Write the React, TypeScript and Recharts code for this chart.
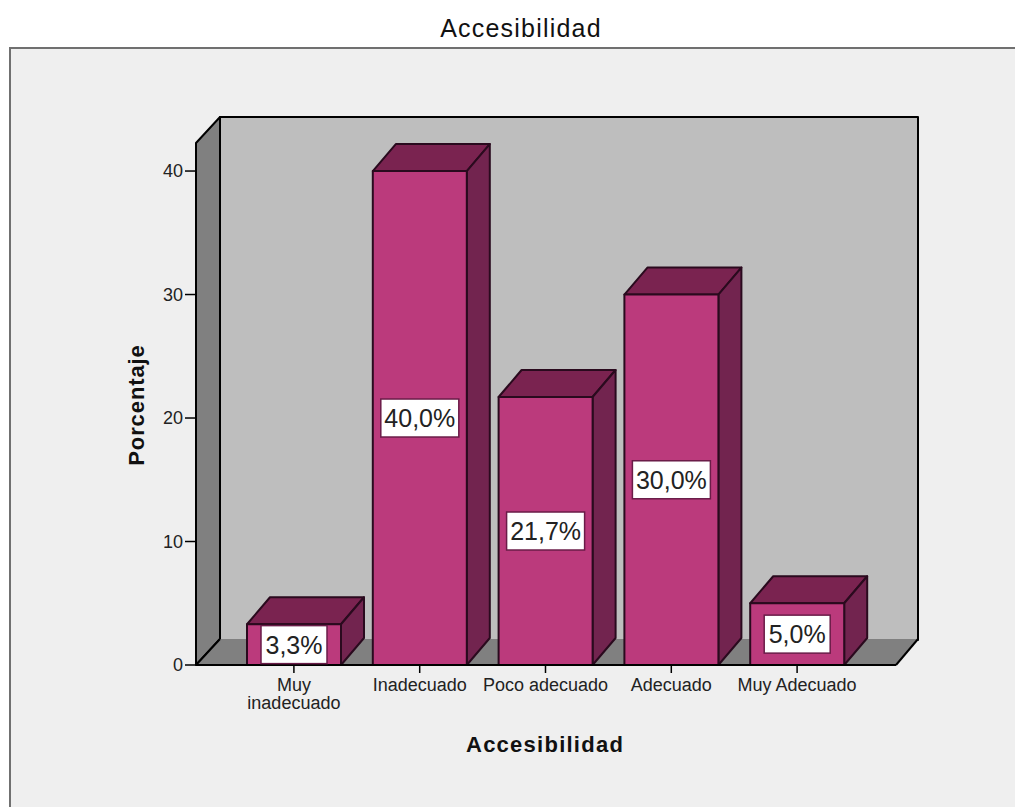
import React from "react";
import { BarChart, Bar, XAxis, YAxis, LabelList, Customized } from "recharts";

const categories = ["Muy inadecuado", "Inadecuado", "Poco adecuado", "Adecuado", "Muy Adecuado"];
const percentages = [3.3, 40.0, 21.7, 30.0, 5.0];
const yTicks = [0, 10, 20, 30, 40];

const rows = categories.map((name, i) => ({ name, value: percentages[i] }));

const W = 1015;
const H = 807;
const LEFT = 196;
const RIGHT = 896;
const TOP = 143;
const BASE = 665;
const DX = 24;
const DY = -26;
const BAR_DX = 23;
const BAR_DY = -27;
const FONT = "'Liberation Sans', Arial, sans-serif";

const pts = (list: number[][]) => list.map((p) => p.join(",")).join(" ");

// Back wall, side wall and floor of the 3D plot box.
function PlotBox() {
  return (
    <g stroke="#000" strokeWidth={2} strokeLinejoin="round">
      <polygon fill="#bebebe" points={pts([[LEFT + DX, TOP + DY], [RIGHT + DX - 2, TOP + DY], [RIGHT + DX - 2, BASE + DY + 1], [LEFT + DX, BASE + DY + 1]])} />
      <polygon fill="#808080" points={pts([[LEFT, TOP], [LEFT + DX, TOP + DY], [LEFT + DX, BASE + DY], [LEFT, BASE]])} />
      <polygon fill="#808080" stroke="none" points={pts([[LEFT, BASE], [LEFT + DX, BASE + DY], [RIGHT + DX - 2, BASE + DY], [RIGHT, BASE]])} />
      <line x1={RIGHT + DX - 2} y1={BASE + DY} x2={RIGHT} y2={BASE} />
      <line x1={LEFT + DX} y1={BASE + DY} x2={LEFT} y2={BASE} />
    </g>
  );
}

// Extruded bar: front face, top face and right side face.
function Bar3D(props: any) {
  const { x, y, width, height } = props;
  const r = x + width;
  const b = y + height;
  return (
    <g stroke="#2a0a1e" strokeWidth={2} strokeLinejoin="round">
      <polygon fill="#7a2350" points={pts([[x, y], [x + BAR_DX, y + BAR_DY], [r + BAR_DX, y + BAR_DY], [r, y]])} />
      <polygon fill="#72244f" points={pts([[r, y], [r + BAR_DX, y + BAR_DY], [r + BAR_DX, b + BAR_DY], [r, b]])} />
      <rect x={x} y={y} width={width} height={height} fill="#bb3a7c" />
    </g>
  );
}

// White value box centred on the front face of a bar.
function ValueBox(props: any) {
  const { x, y, width, height, value } = props;
  const text = `${Number(value).toFixed(1).replace(".", ",")}%`;
  const w = text.length > 4 ? 78 : 66;
  const h = 38;
  const cx = x + width / 2;
  const cy = Math.min(y + height / 2, BASE - h / 2 - 1);
  return (
    <g>
      <rect x={cx - w / 2} y={cy - h / 2} width={w} height={h} fill="#fff" stroke="#6a1c48" strokeWidth={1.5} />
      <text x={cx} y={cy + 9} textAnchor="middle" fontFamily={FONT} fontSize={25} fill="#222">{text}</text>
    </g>
  );
}

// Category label, broken onto two lines when it is too long for one band.
function CategoryTick(props: any) {
  const { x, y, payload } = props;
  const lines = payload.value === "Muy inadecuado" ? ["Muy", "inadecuado"] : [payload.value];
  return (
    <text x={x} textAnchor="middle" fontFamily={FONT} fontSize={18} fill="#222">
      {lines.map((l: string, i: number) => (
        <tspan key={l} x={x} y={y + 16 + i * 18}>{l}</tspan>
      ))}
    </text>
  );
}

export default function App() {
  return (
    <div style={{ position: "absolute", left: 0, top: 0, width: W, height: H, background: "#fff", overflow: "hidden" }}>
      <div style={{ position: "absolute", left: 9, top: 47, width: 1010, height: 770, background: "#efefef", borderLeft: "2px solid #707070", borderTop: "2px solid #707070", boxSizing: "border-box" }} />
      <div style={{ position: "absolute", left: 0, width: 1042, top: 14, textAlign: "center", fontFamily: FONT, fontSize: 25, lineHeight: "28px", color: "#111", letterSpacing: 1.2 }}>Accesibilidad</div>
      <div style={{ position: "absolute", left: 0, top: 0 }}>
        <BarChart
          width={W}
          height={H}
          data={rows}
          barSize={94}
          margin={{ left: LEFT - 40, right: W - RIGHT, top: TOP, bottom: H - BASE - 70 }}
        >
          <Customized component={PlotBox} />
          <XAxis
            dataKey="name"
            height={70}
            interval={0}
            padding={{ left: 35, right: 36 }}
            tick={<CategoryTick />}
            tickSize={8}
            tickLine={{ stroke: "#000", strokeWidth: 1.5 }}
            axisLine={{ stroke: "#000", strokeWidth: 2 }}
          />
          <YAxis
            width={40}
            domain={[0, 42.27]}
            ticks={yTicks}
            interval={0}
            tickSize={11}
            tickLine={{ stroke: "#000", strokeWidth: 1.5 }}
            axisLine={false}
            tick={{ fontFamily: FONT, fontSize: 18, fill: "#222" }}
          />
          <Bar dataKey="value" isAnimationActive={false} shape={<Bar3D />}>
            <LabelList dataKey="value" content={<ValueBox />} />
          </Bar>
        </BarChart>
      </div>
      <div style={{ position: "absolute", left: 466, top: 731, fontFamily: FONT, fontSize: 22, fontWeight: 700, lineHeight: "28px", color: "#111", letterSpacing: 1.25 }}>Accesibilidad</div>
      <div style={{ position: "absolute", left: 137, top: 405, width: 0, height: 0 }}>
        <div style={{ position: "absolute", transform: "translate(-50%,-50%) rotate(-90deg)", fontFamily: FONT, fontSize: 22, fontWeight: 700, whiteSpace: "nowrap", color: "#111", letterSpacing: 0.9 }}>Porcentaje</div>
      </div>
    </div>
  );
}
